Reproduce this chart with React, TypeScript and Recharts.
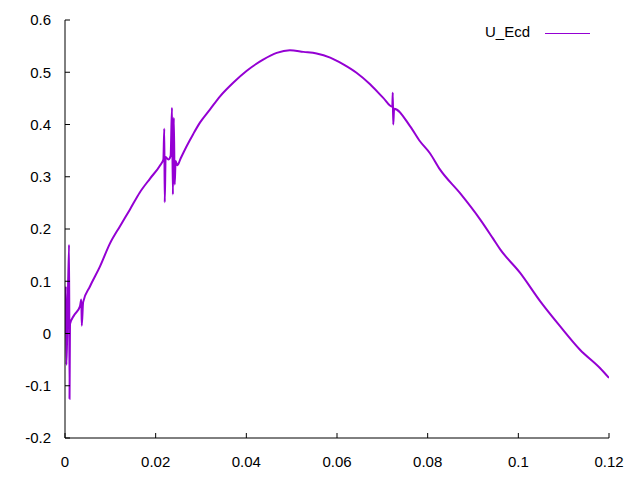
import React from 'react';
import { LineChart, Line, XAxis, YAxis, Legend } from 'recharts';

const seriesName = 'U_Ecd';

const xValues = [
  0.0, 0.0002, 0.0003, 0.0005, 0.0009, 0.001, 0.0011, 0.002, 0.0033, 0.0036,
  0.0037, 0.004, 0.0055, 0.0077, 0.0099, 0.0121, 0.0143, 0.0165, 0.0188, 0.021,
  0.0217, 0.0219, 0.022, 0.0222, 0.0228, 0.0233, 0.0236, 0.0238, 0.024, 0.0242,
  0.0244, 0.0248, 0.0255, 0.0268, 0.0283, 0.0298, 0.032, 0.0342, 0.0371, 0.0401,
  0.0437, 0.0467, 0.0496, 0.0526, 0.0555, 0.0585, 0.0614, 0.0643, 0.0673, 0.0702,
  0.0722, 0.0723, 0.0724, 0.0726, 0.0761, 0.0783, 0.0805, 0.0827, 0.0871, 0.0916,
  0.0944, 0.096, 0.1004, 0.1048, 0.1092, 0.1136, 0.118, 0.12,
];

const yValues = [
  0.0, 0.09, -0.06, 0.005, 0.17, -0.125, 0.018, 0.035, 0.052, 0.065,
  0.015, 0.06, 0.09, 0.128, 0.172, 0.205, 0.237, 0.27, 0.297, 0.322,
  0.333, 0.392, 0.251, 0.338, 0.333, 0.34, 0.432, 0.266, 0.413, 0.285,
  0.33, 0.322, 0.335, 0.358, 0.382, 0.404, 0.429, 0.454, 0.48, 0.503,
  0.524, 0.537, 0.542, 0.539, 0.536, 0.528, 0.515, 0.499, 0.477, 0.451,
  0.434, 0.461, 0.4, 0.43, 0.397, 0.368, 0.345, 0.314, 0.269, 0.218,
  0.182, 0.161, 0.116, 0.062, 0.014, -0.031, -0.066, -0.085,
];

const xTicks = [0, 0.02, 0.04, 0.06, 0.08, 0.1, 0.12];
const yTicks = [-0.2, -0.1, 0, 0.1, 0.2, 0.3, 0.4, 0.5, 0.6];

const data = xValues.map((x, i) => ({ x, y: yValues[i] }));

const FONT = 'Liberation Sans, Arial, sans-serif';
const COLOR = '#9400d3';

const renderLegend = () => (
  <svg width={110} height={20}>
    <text x={0} y={14} fontSize={15} fontFamily={FONT} fill="#000">{seriesName}</text>
    <line x1={60} y1={10.5} x2={105} y2={10.5} stroke={COLOR} strokeWidth={1} />
  </svg>
);

export default function App() {
  return (
    <div style={{ position: 'absolute', left: 0, top: 0, background: '#fff' }}>
      <LineChart width={640} height={480} data={data} margin={{ top: 20, right: 31, bottom: 12, left: 5 }}>
        <XAxis
          xAxisId="b"
          dataKey="x"
          type="number"
          domain={[0, 0.12]}
          ticks={xTicks}
          tickFormatter={(v: number) => String(v)}
          allowDataOverflow
          height={30}
          stroke="#000"
          tickSize={-5}
          tickMargin={23}
          tick={{ fill: '#000', fontSize: 15, fontFamily: FONT }}
        />
        <XAxis
          xAxisId="t"
          orientation="top"
          dataKey="x"
          type="number"
          domain={[0, 0.12]}
          ticks={xTicks}
          allowDataOverflow
          height={0}
          stroke="#000"
          tickSize={-5}
          tick={false}
        />
        <YAxis
          yAxisId="l"
          type="number"
          domain={[-0.2, 0.6]}
          ticks={yTicks}
          tickFormatter={(v: number) => String(v)}
          allowDataOverflow
          width={60}
          stroke="#000"
          tickSize={-5}
          tickMargin={19}
          tick={{ fill: '#000', fontSize: 15, fontFamily: FONT }}
        />
        <YAxis
          yAxisId="r"
          orientation="right"
          type="number"
          domain={[-0.2, 0.6]}
          ticks={yTicks}
          allowDataOverflow
          width={0}
          stroke="#000"
          tickSize={-5}
          tick={false}
        />
        <Legend
          layout="horizontal"
          verticalAlign="middle"
          align="center"
          wrapperStyle={{ top: 23, left: 485, width: 110, height: 20 }}
          content={renderLegend}
        />
        <Line
          xAxisId="b"
          yAxisId="l"
          type="monotoneX"
          dataKey="y"
          name={seriesName}
          stroke={COLOR}
          strokeWidth={2}
          dot={false}
          isAnimationActive={false}
        />
      </LineChart>
    </div>
  );
}
